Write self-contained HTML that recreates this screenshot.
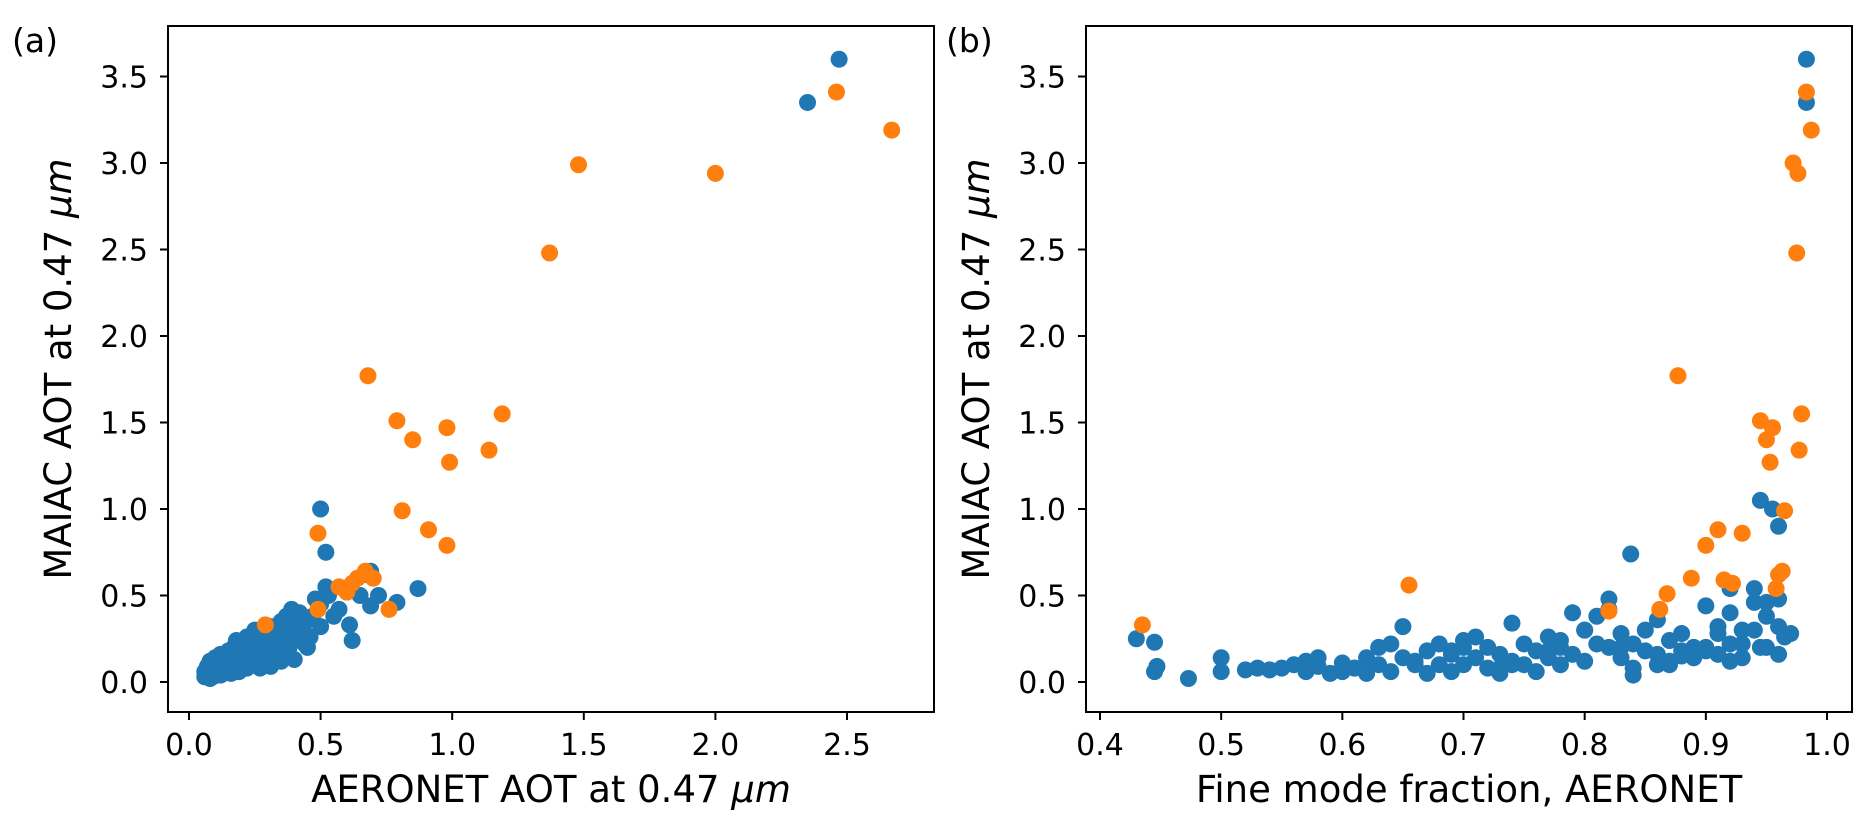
<!DOCTYPE html>
<html><head><meta charset="utf-8"><style>
body{margin:0;background:#fff;width:1873px;height:831px;overflow:hidden}
svg text{font-family:"DejaVu Sans","Liberation Sans",sans-serif;fill:#000}
</style></head><body>
<svg id="fig" width="1873" height="831"></svg>
<script>
// Panel (a) data
const aBlueX=[0.06,0.07,0.08,0.08,0.09,0.1,0.1,0.11,0.12,0.12,0.13,0.14,0.15,0.15,0.16,0.17,0.18,0.18,0.19,0.2,0.2,0.21,0.22,0.23,0.24,0.25,0.26,0.27,0.28,0.29,0.3,0.31,0.32,0.33,0.34,0.35,0.36,0.37,0.38,0.39,0.4,0.41,0.42,0.43,0.44,0.45,0.46,0.47,0.48,0.5,0.5,0.52,0.53,0.55,0.57,0.6,0.61,0.62,0.65,0.68,0.69,0.69,0.72,0.79,0.87,0.5,0.52,2.35,2.47,0.07,0.09,0.11,0.13,0.15,0.17,0.19,0.21,0.24,0.27,0.3,0.33,0.36,0.39,0.14,0.16,0.22,0.25,0.28,0.35,0.4,0.44,0.31,0.06,0.08,0.1,0.12,0.2,0.26,0.45,0.38];
const aBlueY=[0.03,0.09,0.05,0.12,0.07,0.04,0.14,0.1,0.06,0.16,0.12,0.08,0.18,0.11,0.14,0.2,0.1,0.24,0.15,0.12,0.22,0.18,0.26,0.14,0.2,0.3,0.22,0.16,0.28,0.25,0.18,0.32,0.26,0.22,0.3,0.35,0.28,0.38,0.32,0.42,0.13,0.36,0.4,0.3,0.34,0.2,0.26,0.38,0.48,0.32,0.45,0.55,0.5,0.38,0.42,0.52,0.33,0.24,0.5,0.62,0.44,0.64,0.5,0.46,0.54,1.0,0.75,3.35,3.6,0.05,0.03,0.05,0.08,0.06,0.09,0.06,0.1,0.12,0.08,0.1,0.15,0.2,0.24,0.13,0.05,0.08,0.17,0.2,0.12,0.28,0.22,0.09,0.06,0.02,0.1,0.04,0.16,0.14,0.26,0.2];
const aOrangeX=[0.29,0.49,0.49,0.57,0.6,0.62,0.64,0.67,0.68,0.7,0.76,0.79,0.81,0.85,0.91,0.98,0.98,0.99,1.14,1.19,1.37,1.48,2.0,2.46,2.67];
const aOrangeY=[0.33,0.42,0.86,0.55,0.52,0.57,0.6,0.64,1.77,0.6,0.42,1.51,0.99,1.4,0.88,1.47,0.79,1.27,1.34,1.55,2.48,2.99,2.94,3.41,3.19];
// Panel (b) data
const bBlueX=[0.43,0.445,0.445,0.447,0.473,0.5,0.5,0.52,0.53,0.54,0.55,0.56,0.57,0.58,0.59,0.6,0.6,0.61,0.62,0.63,0.63,0.64,0.64,0.65,0.65,0.66,0.67,0.67,0.68,0.68,0.69,0.69,0.7,0.7,0.71,0.71,0.72,0.72,0.73,0.73,0.74,0.74,0.75,0.75,0.76,0.76,0.77,0.77,0.78,0.78,0.79,0.79,0.8,0.8,0.81,0.81,0.82,0.82,0.83,0.83,0.84,0.84,0.85,0.85,0.86,0.86,0.87,0.87,0.88,0.88,0.89,0.89,0.9,0.9,0.91,0.91,0.92,0.92,0.93,0.93,0.94,0.94,0.95,0.95,0.96,0.96,0.97,0.838,0.82,0.945,0.955,0.96,0.983,0.983,0.94,0.95,0.92,0.91,0.58,0.62,0.66,0.7,0.74,0.78,0.8,0.84,0.86,0.88,0.9,0.93,0.96,0.57,0.61,0.69,0.73,0.77,0.83,0.87,0.89,0.92,0.945,0.965];
const bBlueY=[0.25,0.23,0.06,0.09,0.02,0.14,0.06,0.07,0.08,0.07,0.08,0.1,0.06,0.09,0.05,0.11,0.06,0.08,0.14,0.2,0.1,0.22,0.06,0.32,0.14,0.1,0.18,0.05,0.22,0.1,0.06,0.16,0.24,0.1,0.26,0.14,0.2,0.08,0.16,0.05,0.34,0.12,0.22,0.1,0.18,0.06,0.14,0.26,0.2,0.1,0.4,0.16,0.3,0.12,0.22,0.38,0.48,0.2,0.28,0.14,0.22,0.04,0.3,0.18,0.36,0.16,0.12,0.24,0.18,0.28,0.2,0.14,0.44,0.2,0.32,0.16,0.4,0.22,0.3,0.14,0.3,0.46,0.38,0.2,0.32,0.48,0.28,0.74,0.42,1.05,1.0,0.9,3.6,3.35,0.54,0.46,0.54,0.28,0.14,0.05,0.12,0.2,0.1,0.24,0.3,0.08,0.1,0.15,0.18,0.22,0.16,0.12,0.08,0.18,0.08,0.18,0.2,0.1,0.16,0.12,0.2,0.26];
const bOrangeX=[0.435,0.655,0.82,0.862,0.868,0.877,0.888,0.9,0.91,0.915,0.922,0.93,0.945,0.95,0.953,0.955,0.958,0.96,0.963,0.965,0.972,0.975,0.976,0.977,0.979,0.983,0.987];
const bOrangeY=[0.33,0.56,0.41,0.42,0.51,1.77,0.6,0.79,0.88,0.59,0.57,0.86,1.51,1.4,1.27,1.47,0.54,0.62,0.64,0.99,3.0,2.48,2.94,1.34,1.55,3.41,3.19];
const aXTicks=[0.0,0.5,1.0,1.5,2.0,2.5];
const bXTicks=[0.4,0.5,0.6,0.7,0.8,0.9,1.0];
const yTicks=[0.0,0.5,1.0,1.5,2.0,2.5,3.0,3.5];

const NS="http://www.w3.org/2000/svg";
const svg=document.getElementById('fig');
function el(t,a,p){const e=document.createElementNS(NS,t);for(const k in a)e.setAttribute(k,a[k]);(p||svg).appendChild(e);return e;}
const topY=26,botY=712;
const yS=v=>682-v*173;
function panel(id,left,right,xS,xt,bx,by,ox,oy,xlabelHTML,tag,tagX){
  const g=el('g',{});
  
  
  for(let i=0;i<bx.length;i++){const c=el('circle',{cx:xS(bx[i]),cy:yS(by[i]),r:8.5,fill:'#1f77b4'},g);
    
    }
  for(let i=0;i<ox.length;i++){const c=el('circle',{cx:xS(ox[i]),cy:yS(oy[i]),r:8.5,fill:'#ff7f0e'},g);
    
    }
  const f=el('rect',{x:left,y:topY,width:right-left,height:botY-topY,fill:'none',stroke:'#000','stroke-width':2},g);
  
  
  xt.forEach(v=>{const x=xS(v);el('line',{x1:x,x2:x,y1:botY,y2:botY+8,stroke:'#000','stroke-width':2},g);
    const t=el('text',{x:x,y:755,'font-size':30,'text-anchor':'middle'},g);t.textContent=v.toFixed(1);
    
    });
  yTicks.forEach(v=>{const y=yS(v);el('line',{x1:left-8,x2:left,y1:y,y2:y,stroke:'#000','stroke-width':2},g);
    const t=el('text',{x:left-20,y:y+11,'font-size':30,'text-anchor':'end'},g);t.textContent=v.toFixed(1);
    
    });
  const xl=el('text',{x:(left+right)/2,y:802,'font-size':37,'text-anchor':'middle'},g);xl.innerHTML=xlabelHTML;
  
  
  const yl=el('text',{x:0,y:0,'font-size':37,'text-anchor':'middle',transform:`translate(${left-97},${(topY+botY)/2}) rotate(-90)`},g);
  yl.innerHTML='MAIAC AOT at 0.47 <tspan font-style="italic">μm</tspan>';
  
  
  const tg=el('text',{x:tagX,y:52,'font-size':33},g);tg.textContent=tag;
  
  
}
panel('a',168,934,v=>189+v*263.2,aXTicks,aBlueX,aBlueY,aOrangeX,aOrangeY,'AERONET AOT at 0.47 <tspan font-style="italic">μm</tspan>','(a)',12);
panel('b',1086,1852,v=>1100+(v-0.4)*1211.7,bXTicks,bBlueX,bBlueY,bOrangeX,bOrangeY,'Fine mode fraction, AERONET','(b)',946);
</script>
</body></html>
